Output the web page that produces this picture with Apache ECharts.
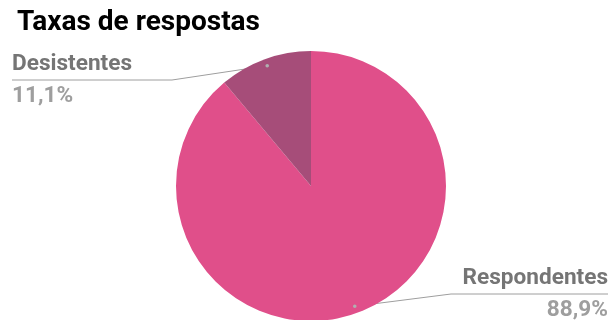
<!DOCTYPE html>
<html>
<head>
<meta charset="utf-8">
<script src="https://cdn.jsdelivr.net/npm/echarts@6/dist/echarts.min.js"></script>
<style>
  html, body { margin: 0; padding: 0; background: #fff; }
  #myChart { width: 611px; height: 320px; }
</style>
</head>
<body>
<div id="myChart"></div>
<script>
// dados do gráfico
var categories = ['Respondentes', 'Desistentes'];
var counts = [8, 1];
var sliceColors = ['#e04f8a', '#a64d79'];

var cx = 311, cy = 186, R = 135;
var total = counts.reduce(function (a, b) { return a + b; }, 0);

function pct(v) {
  return (v / total * 100).toFixed(1).replace('.', ',') + '%';
}

// pontinhos cinza no início de cada linha do rótulo
var dots = [];
var acc = 0;
counts.forEach(function (v) {
  var a = (90 - 360 * (acc + v / 2) / total) * Math.PI / 180;
  acc += v;
  dots.push({
    type: 'circle',
    shape: { cx: cx + (R - 7) * Math.cos(a), cy: cy - (R - 7) * Math.sin(a), r: 1.8 },
    style: { fill: '#b0b0b0' },
    z: 100
  });
});

var chart = echarts.init(document.getElementById('myChart'));
chart.setOption({
  animation: false,
  title: {
    text: 'Taxas de respostas',
    left: 12,
    top: 4,
    textStyle: { fontFamily: 'Roboto', fontSize: 28, fontWeight: 'bold', color: '#000' }
  },
  graphic: dots,
  series: [
    {
      type: 'pie',
      center: [cx, cy],
      radius: [0, R],
      startAngle: 90,
      clockwise: true,
      data: categories.map(function (n, i) {
        return { name: n, value: counts[i], itemStyle: { color: sliceColors[i] } };
      }),
      label: {
        show: true,
        position: 'outside',
        formatter: function (p) {
          return '{n|' + p.name + '}\n{v|' + pct(p.value) + '}';
        },
        rich: {
          n: { fontFamily: 'Roboto', fontSize: 22.6, fontWeight: 'bold', color: '#757575', lineHeight: 32 },
          v: { fontFamily: 'Roboto', fontSize: 22.6, fontWeight: 'bold', color: '#9e9e9e', lineHeight: 32 }
        }
      },
      labelLine: {
        show: true,
        lineStyle: { color: '#9e9e9e', width: 1 }
      },
      labelLayout: function (params) {
        var p0 = params.labelLinePoints ? params.labelLinePoints[0] : [cx, cy - R];
        var dx = p0[0] - cx, dy = p0[1] - cy;
        var d = Math.sqrt(dx * dx + dy * dy) || 1;
        var s = [cx + dx * (d - 7) / d, cy + dy * (d - 7) / d];
        if (params.dataIndex === 1) {
          return {
            x: 12, y: 80, align: 'left', verticalAlign: 'middle',
            labelLinePoints: [s, [172, 80], [12, 80]]
          };
        }
        return {
          x: 608, y: 294, align: 'right', verticalAlign: 'middle',
          labelLinePoints: [s, [451, 294], [608, 294]]
        };
      }
    }
  ]
});
</script>
</body>
</html>
